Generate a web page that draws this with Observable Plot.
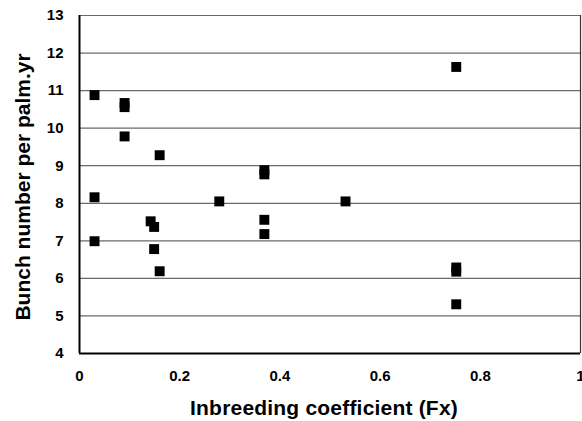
<!DOCTYPE html>
<html>
<head>
<meta charset="utf-8">
<script src="https://cdn.jsdelivr.net/npm/d3@7"></script>
<script src="https://cdn.jsdelivr.net/npm/@observablehq/plot@0.6"></script>
<style>
  html, body { margin: 0; padding: 0; background: #fff; }
</style>
</head>
<body>
<div id="chart"></div>
<script>
const fx = [0.03, 0.03, 0.03, 0.09, 0.09, 0.09, 0.142, 0.149, 0.149, 0.16, 0.16, 0.279, 0.369, 0.369, 0.369, 0.369, 0.531, 0.752, 0.752, 0.752, 0.752];
const bunch = [10.88, 8.16, 6.99, 10.67, 10.56, 9.78, 7.52, 7.37, 6.78, 9.28, 6.19, 8.05, 8.88, 8.77, 7.56, 7.18, 8.05, 11.63, 6.29, 6.18, 5.31];
const xTicks = [0, 0.2, 0.4, 0.6, 0.8, 1];
const yTicks = [4, 5, 6, 7, 8, 9, 10, 11, 12, 13];
const xLabel = "Inbreeding coefficient (Fx)";
const yLabel = "Bunch number per palm.yr";

const data = fx.map((x, i) => ({x, y: bunch[i]}));

const chart = Plot.plot({
  width: 582,
  height: 421,
  marginLeft: 79,
  marginRight: 2,
  marginTop: 15,
  marginBottom: 68,
  style: {fontFamily: "'Liberation Sans', Arial, sans-serif", fontWeight: "bold", background: "#fff"},
  x: {domain: [0, 1]},
  y: {domain: [4, 13]},
  marks: [
    Plot.ruleY(yTicks.slice(1), {stroke: "#6a6a6a", strokeWidth: 1.2}),
    Plot.ruleX([1], {stroke: "#333", strokeWidth: 1.2}),
    Plot.ruleX([0], {stroke: "#000", strokeWidth: 2}),
    Plot.ruleY([4], {stroke: "#000", strokeWidth: 2}),
    Plot.axisX({ticks: xTicks, tickSize: 0, tickPadding: 17, tickFormat: d => String(d), fontSize: 15, label: null}),
    Plot.axisY({ticks: yTicks, tickSize: 0, tickPadding: 16, tickFormat: d => String(d), fontSize: 15, label: null}),
    Plot.axisX({ticks: [], label: xLabel, labelAnchor: "center", labelOffset: 61, labelArrow: "none", fontSize: 21}),
    Plot.axisY({ticks: [], label: yLabel, labelAnchor: "center", labelOffset: 64, labelArrow: "none", fontSize: 21}),
    Plot.dot(data, {x: "x", y: "y", symbol: "square", r: 5.6, fill: "#000", stroke: "none"})
  ]
});
function shiftText(content, dx, dy, spacing) {
  d3.select(chart).selectAll("text").each(function() {
    if (this.textContent.trim() === content) {
      const g = document.createElementNS("http://www.w3.org/2000/svg", "g");
      g.setAttribute("transform", `translate(${dx},${dy})`);
      this.parentNode.insertBefore(g, this);
      g.appendChild(this);
      if (spacing) this.style.letterSpacing = spacing;
    }
  });
}
shiftText(xLabel, -6, 0, "0.2px");
shiftText(yLabel, 0, 2.5, null);
document.getElementById("chart").appendChild(chart);
</script>
</body>
</html>
